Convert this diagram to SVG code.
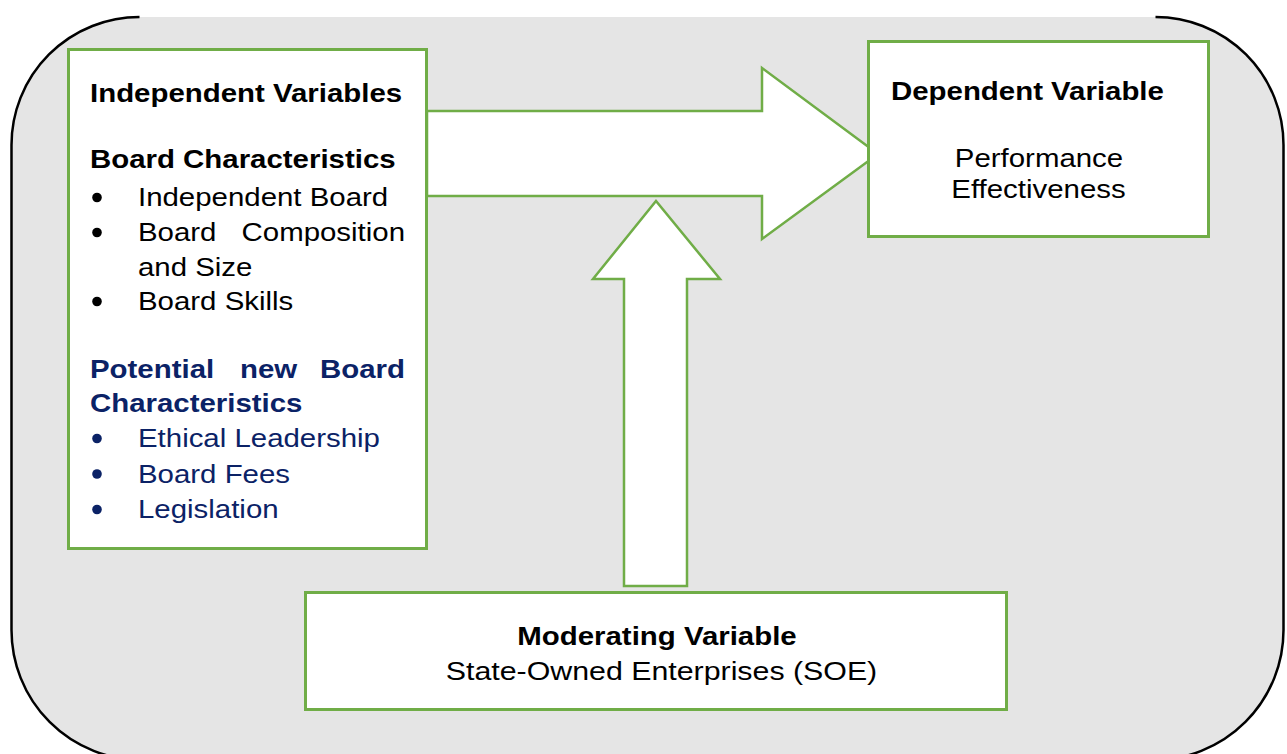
<svg xmlns="http://www.w3.org/2000/svg" width="1287" height="754" viewBox="0 0 1287 754">
  <style>
    .frame-fill { fill: #e5e5e5; stroke: none; }
    .frame-line { fill: none; stroke: #000000; stroke-width: 2.5; }
    .box { fill: #ffffff; stroke: #70ad47; stroke-width: 3; }
    .arrow { fill: #ffffff; stroke: #70ad47; stroke-width: 2.5; stroke-linejoin: miter; }
    text { font-family: "Liberation Sans", Arial, sans-serif; font-size: 26.5px; fill: #000000; }
    .b { font-weight: bold; }
    .blue { fill: #0b2266; }
    .mid { text-anchor: middle; }
    .end { text-anchor: end; }
    .dot { fill: #000000; }
    .dot.blue { fill: #0b2266; }
  </style>

  <!-- background panel -->
  <g id="frame">
    <path class="frame-fill" d="M11.5,145 A128,128 0 0 1 139.5,17 L1155.5,17 A128,128 0 0 1 1283.5,145 L1283.5,630 A130,130 0 0 1 1153.5,760 L141.5,760 A130,130 0 0 1 11.5,630 Z"/>
    <path class="frame-line" d="M139.5,17 A128,128 0 0 0 11.5,145 L11.5,630 A130,130 0 0 0 141.5,760 L1153.5,760 A130,130 0 0 0 1283.5,630 L1283.5,145 A128,128 0 0 0 1155.5,17"/>
  </g>

  <!-- block arrows -->
  <g id="connectors">
    <path id="arrow-iv-dv" class="arrow" d="M427,111 L762,111 L762,68 L878,154 L762,239 L762,196 L427,196 Z"/>
    <path id="arrow-mod" class="arrow" d="M624,586 L624,279 L593,279 L656,201 L720,279 L687,279 L687,586 Z"/>
  </g>

  <!-- independent variables -->
  <g id="node-independent">
    <rect class="box" x="68.5" y="49.5" width="358" height="499"/>
    <text class="b" transform="translate(90,102) scale(1.11,1)">Independent Variables</text>
    <text class="b" transform="translate(90,168) scale(1.11,1)">Board Characteristics</text>
    <circle class="dot" cx="97" cy="197.5" r="4.8"/>
    <text transform="translate(138,206) scale(1.11,1)">Independent Board</text>
    <circle class="dot" cx="97" cy="232.5" r="4.8"/>
    <text transform="translate(138,241) scale(1.11,1)">Board</text>
    <text class="end" transform="translate(405,241) scale(1.11,1)">Composition</text>
    <text transform="translate(138,276) scale(1.11,1)">and Size</text>
    <circle class="dot" cx="97" cy="301.5" r="4.8"/>
    <text transform="translate(138,310) scale(1.11,1)">Board Skills</text>
    <text class="b blue" transform="translate(90,378) scale(1.11,1)">Potential</text>
    <text class="b blue" transform="translate(240,378) scale(1.11,1)">new</text>
    <text class="b blue end" transform="translate(405,378) scale(1.11,1)">Board</text>
    <text class="b blue" transform="translate(90,412) scale(1.11,1)">Characteristics</text>
    <circle class="dot blue" cx="97" cy="438.5" r="4.8"/>
    <text class="blue" transform="translate(138,447) scale(1.11,1)">Ethical Leadership</text>
    <circle class="dot blue" cx="97" cy="474" r="4.8"/>
    <text class="blue" transform="translate(138,483) scale(1.11,1)">Board Fees</text>
    <circle class="dot blue" cx="97" cy="509.5" r="4.8"/>
    <text class="blue" transform="translate(138,518) scale(1.11,1)">Legislation</text>
  </g>

  <!-- dependent variable -->
  <g id="node-dependent">
    <rect class="box" x="868.5" y="41.5" width="340" height="195"/>
    <text class="b" transform="translate(891,99.5) scale(1.11,1)">Dependent Variable</text>
    <text class="mid" transform="translate(1039,167) scale(1.11,1)">Performance</text>
    <text class="mid" transform="translate(1038.5,198) scale(1.11,1)">Effectiveness</text>
  </g>

  <!-- moderating variable -->
  <g id="node-moderating">
    <rect class="box" x="305.5" y="592.5" width="701" height="117"/>
    <text class="b mid" transform="translate(657,645) scale(1.11,1)">Moderating Variable</text>
    <text class="mid" transform="translate(661.5,680) scale(1.145,1)">State-Owned Enterprises (SOE)</text>
  </g>
</svg>
